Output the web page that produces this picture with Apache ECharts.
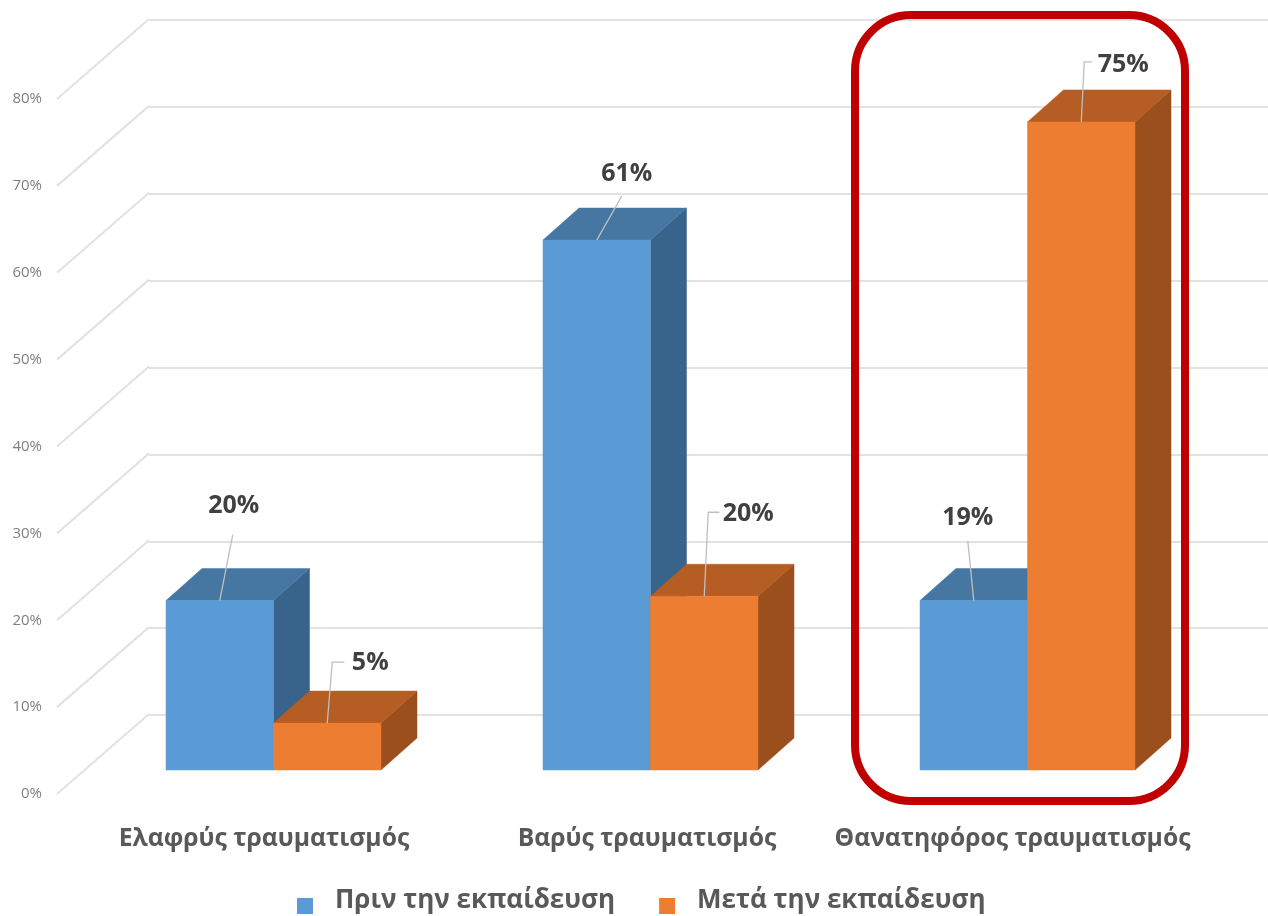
<!DOCTYPE html>
<html><head><meta charset="utf-8">
<style>html,body{margin:0;padding:0;background:#fff}#c{width:1268px;height:916px}</style>
<script src="https://cdn.jsdelivr.net/npm/echarts@6/dist/echarts.min.js"></script>
</head><body><div id="c"></div>
<script>
const categories = ['Ελαφρύς τραυματισμός','Βαρύς τραυματισμός','Θανατηφόρος τραυματισμός'];
const seriesNames = ['Πριν την εκπαίδευση','Μετά την εκπαίδευση'];
const beforeValues = [19.5, 61, 19.5];
const afterValues = [5.4, 20, 74.6];
const beforeLabels = ['20%','61%','19%'];
const afterLabels = ['5%','20%','75%'];
const yTicks = [0,10,20,30,40,50,60,70,80];

// drawing constants, kept apart from the data
const FONT = '"Open Sans", sans-serif';
const BAR_W = 107.5, DX = 36, DY = -32, WALL_DX = 92, WALL_DY = -80;
const palette = [
  {front:'#5B9BD5', top:'#4676A2', side:'#38638A'},
  {front:'#ED7D31', top:'#B55D22', side:'#9A4F1D'}
];
// leader-line bend points and label centre, relative to the bar's top-front midpoint
const callouts = [
  [{line:[[13,-66]],label:[14,-95]},{line:[[25,-44]],label:[30,-66]},{line:[[-6,-60]],label:[-6,-83]}],
  [{line:[[5,-61],[17,-61]],label:[43,-60]},{line:[[4,-84],[15,-84]],label:[44,-82]},{line:[[3,-60],[11,-60]],label:[42,-57]}]
];
const catShift = [19,7,30]; // right padding => label sits left of band centre
const catRich = k => ({fontFamily:FONT, fontWeight:700, fontSize:24.7, color:'#595959', padding:[0,k,0,0]});

function barRenderer(si, labels){
  return function(params, api){
    const i = api.value(0), v = api.value(1);
    const top = api.coord([i, v]), base = api.coord([i, 0]);
    const x0 = si === 0 ? top[0] - BAR_W : top[0], x1 = x0 + BAR_W;
    const yt = top[1], yb = base[1], c = palette[si];
    const poly = (pts, fill) => ({type:'polygon', shape:{points:pts}, style:{fill, stroke:fill, lineWidth:0.5}});
    const mx = (x0+x1)/2;
    const co = callouts[si][i];
    const linePts = [[mx,yt]].concat(co.line.map(p=>[mx+p[0], yt+p[1]]));
    return {type:'group', children:[
      poly([[x1,yt],[x1+DX,yt+DY],[x1+DX,yb+DY],[x1,yb]], c.side),
      poly([[x0,yt],[x0+DX,yt+DY],[x1+DX,yt+DY],[x1,yt]], c.top),
      poly([[x0,yt],[x1,yt],[x1,yb],[x0,yb]], c.front),
      {type:'polyline', shape:{points:linePts}, style:{stroke:'#BFBFBF', lineWidth:1.3, fill:null}, z2:5},
      {type:'text', x:mx+co.label[0], y:yt+co.label[1], z2:6, style:{text:labels[i], fill:'#404040',
        font:'700 25px '+FONT, align:'center', verticalAlign:'middle'}}
    ]};
  };
}

const option = {
  animation:false,
  backgroundColor:'#fff',
  grid:[
    {left:149, right:0, top:20, bottom:201},
    {left:57, width:92, top:99, bottom:122},
    {left:85, width:1131, top:75, bottom:146}
  ],
  xAxis:[
    {gridIndex:0, type:'value', min:0, max:1, show:false},
    {gridIndex:1, type:'value', min:0, max:1, show:false},
    {gridIndex:2, type:'category', data:categories, axisLine:{show:false}, axisTick:{show:false},
      axisLabel:{interval:0, margin:56,
        formatter:(v,i)=>`{c${i}|${v}}`,
        rich:{c0:catRich(catShift[0]), c1:catRich(catShift[1]), c2:catRich(catShift[2])}}}
  ],
  yAxis:[
    {gridIndex:0, type:'value', min:0, max:80, interval:10, axisLine:{show:false}, axisTick:{show:false},
      axisLabel:{show:false}, splitLine:{lineStyle:{color:'#E2E2E2', width:2}}},
    {gridIndex:1, type:'value', min:0, max:80, interval:10, axisLine:{show:false}, axisTick:{show:false},
      splitLine:{show:false},
      axisLabel:{formatter:'{value}%', margin:15, color:'#7F7F7F', fontFamily:FONT, fontSize:15}},
    {gridIndex:2, type:'value', min:0, max:80, interval:10, show:false, splitLine:{show:false}}
  ],
  legend:{
    data:seriesNames, left:292, top:882, itemWidth:16, itemHeight:27, itemGap:44,
    icon:'path://M0,0L16,0L16,0L0,0ZM0,11L16,11L16,27L0,27Z',
    textStyle:{color:'#595959', fontFamily:FONT, fontWeight:700, fontSize:26, padding:[0,0,36,17]}
  },
  series:[
    {type:'custom', name:'wall', xAxisIndex:1, yAxisIndex:1, silent:true, z:1, clip:false,
      data:yTicks.map(t=>[0,t]),
      renderItem:(p,api)=>{
        const a = api.coord([0, api.value(1)]);
        return {type:'line', shape:{x1:a[0],y1:a[1],x2:a[0]+WALL_DX,y2:a[1]+WALL_DY},
          style:{stroke:'#E2E2E2', lineWidth:2}};
      }},
    {type:'custom', name:seriesNames[0], xAxisIndex:2, yAxisIndex:2, z:3, clip:false,
      itemStyle:{color:palette[0].front},
      encode:{x:0,y:1},
      data:beforeValues.map((v,i)=>[i,v]), renderItem:barRenderer(0,beforeLabels)},
    {type:'custom', name:seriesNames[1], xAxisIndex:2, yAxisIndex:2, z:4, clip:false,
      itemStyle:{color:palette[1].front},
      encode:{x:0,y:1},
      data:afterValues.map((v,i)=>[i,v]), renderItem:barRenderer(1,afterLabels)}
  ],
  graphic:[{type:'rect', z:100, shape:{x:855,y:15,width:330,height:786,r:56},
    style:{fill:null, stroke:'#C00000', lineWidth:8}}]
};
const chart = echarts.init(document.getElementById('c'), null, {renderer:'canvas'});
chart.setOption(option);
</script></body></html>
